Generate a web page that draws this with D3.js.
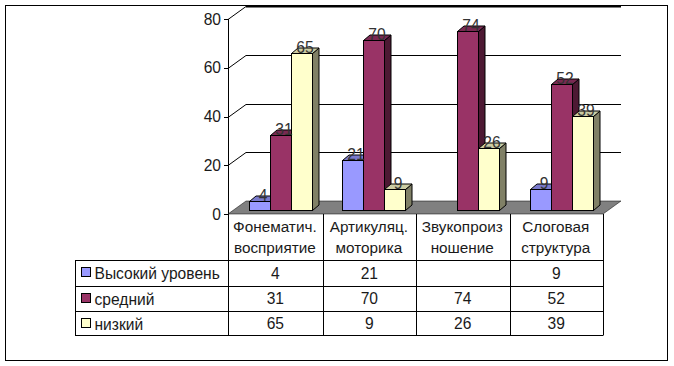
<!DOCTYPE html>
<html><head><meta charset="utf-8">
<script src="https://cdn.jsdelivr.net/npm/d3@7/dist/d3.min.js"></script>
<style>html,body{margin:0;padding:0;background:#fff}svg{display:block}text{font-family:"Liberation Sans",Arial,sans-serif;font-size:15.6px;fill:#1a1a1a}</style>
</head><body><div id="c"></div>
<script>
const categories = [["Фонематич.","восприятие"],["Артикуляц.","моторика"],["Звукопроиз","ношение"],["Слоговая","структура"]];
const seriesNames = ["Высокий уровень","средний","низкий"];
const high = [4,21,null,9];
const mid = [31,70,74,52];
const low = [65,9,26,39];
const ticks = [0,20,40,60,80];
const fronts = ["#9999FF","#993366","#FFFFCC"];
const tops = ["#7A7ACC","#7A2952","#CCCCA3"];
const sides = ["#4D4D80","#4D1933","#808066"];

const W=674,H=366;
const svg=d3.select("#c").append("svg").attr("width",W).attr("height",H);
const series=[high,mid,low];
const y0=214, yTop=19, wallDx=18, wallDy=13;
const y=d3.scaleLinear().domain([0,80]).range([y0,yTop]);
const x0=d3.scaleBand().domain(d3.range(categories.length)).range([228,603]);
const x1=d3.scaleBand().domain(d3.range(3)).range([21,84]);
const barDx=6.5, barDy=5.5, barInset=4;
const line=(g,a,b,c,d,w=1)=>g.append("line").attr("x1",a).attr("y1",b).attr("x2",c).attr("y2",d).attr("stroke","#000").attr("stroke-width",w);

svg.append("rect").attr("x",5.5).attr("y",5.5).attr("width",662).attr("height",355).attr("fill","#fff").attr("stroke","#000");

// walls
const grid=svg.append("g");
ticks.forEach(t=>{
  const yy=Math.round(y(t))+.5;
  if(t>0){
    line(grid,228,yy,228+wallDx,yy-wallDy);
    line(grid,228+wallDx,yy-wallDy,621,yy-wallDy,t===80?2:1);
  }
  line(grid,224,yy,228,yy);
});
line(grid,228.5,y(80),228.5,y0);

// floor
svg.append("path").attr("fill","#808080").attr("stroke","#000").attr("stroke-width",.5)
  .attr("d",d3.line()([[228,y0],[228+wallDx,y0-wallDy],[621,y0-wallDy],[603,y0]])+"Z");

// bars
const bars=svg.append("g").attr("stroke","#000").attr("stroke-width",1);
const labels=[];
categories.forEach((c,ci)=>{
  series.forEach((s,si)=>{
    const v=s[ci]; if(v==null) return;
    const xl=Math.floor(x0(ci)+x1(si))+.5, w=x1.bandwidth();
    const b=y(0)-barInset+.5, t=Math.ceil(b-(y(0)-y(v)))+.5;
    const g=bars.append("g");
    g.append("path").attr("fill",sides[si]).attr("d",`M${xl+w},${t}l${barDx},${-barDy}V${b-barDy}l${-barDx},${barDy}Z`);
    g.append("path").attr("fill",tops[si]).attr("d",`M${xl},${t}l${barDx},${-barDy}h${w}l${-barDx},${barDy}Z`);
    g.append("rect").attr("x",xl).attr("y",t).attr("width",w).attr("height",b-t).attr("fill",fronts[si]);
    labels.push({x:xl+w/2+3,y:t-.5,v});
  });
});
svg.append("g").selectAll("text").data(labels).join("text")
  .attr("x",d=>d.x).attr("y",d=>d.y).attr("text-anchor","middle").style("fill","#333").text(d=>d.v);

// y tick labels
svg.append("g").selectAll("text").data(ticks).join("text")
  .attr("x",221).attr("y",d=>y(d)+5.5).attr("text-anchor","end").text(d=>d);

// table
const tb=svg.append("g");
const rowY=[214,260,286,311,335], colX=[228,322.75,416,509.5,603], tableLeft=75;
rowY.forEach((r,i)=>{ if(i>0) line(tb,i===0?228:tableLeft,r+.5,603,r+.5); });
colX.forEach(cx=>line(tb,Math.round(cx)+.5,214,Math.round(cx)+.5,335.5));
line(tb,tableLeft+.5,260,tableLeft+.5,335.5);
categories.forEach((c,i)=>{
  const cx=(colX[i]+colX[i+1])/2;
  c.forEach((t,j)=>tb.append("text").attr("x",cx-.5).attr("y",j===0?232:252.5).attr("text-anchor","middle").style("font-size","15.3px").text(t));
  series.forEach((s,si)=>{
    if(s[i]!=null) tb.append("text").attr("x",cx).attr("y",rowY[si+1]+ (si===0?18.5:18)).attr("text-anchor","middle").text(s[i]);
  });
});
seriesNames.forEach((n,si)=>{
  const ry=rowY[si+1];
  tb.append("rect").attr("x",81.5).attr("y",ry+7.5).attr("width",9).attr("height",9).attr("fill",fronts[si]).attr("stroke","#000");
  tb.append("text").attr("x",94.5).attr("y",ry+18.5).text(n);
});
</script></body></html>
